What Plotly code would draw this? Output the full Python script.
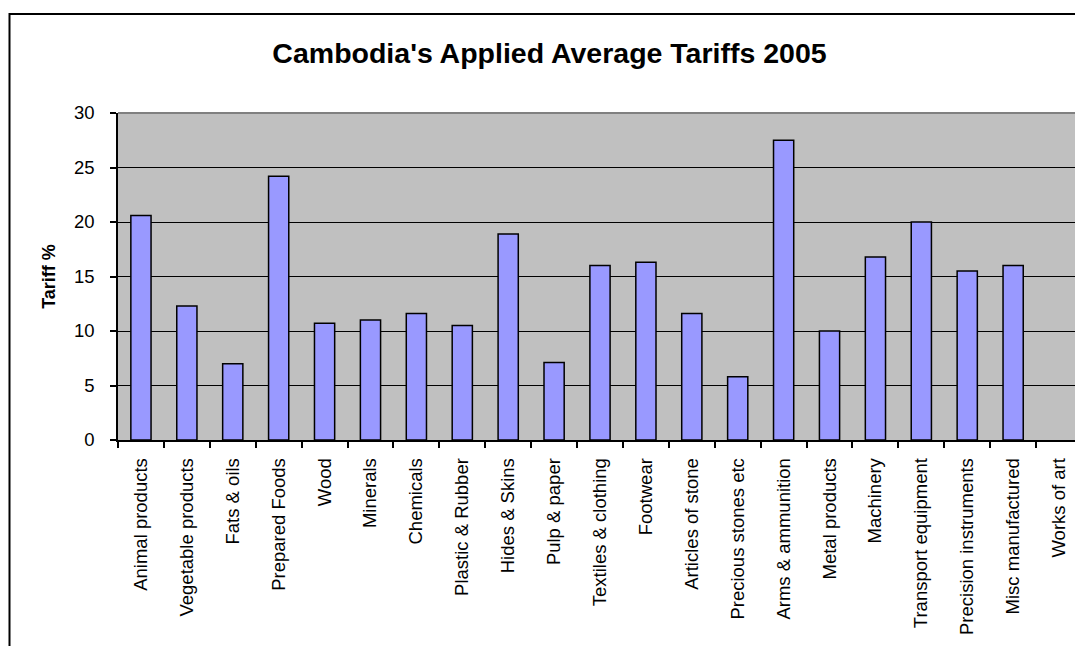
import plotly.graph_objects as go

categories = [
    "Animal products", "Vegetable products", "Fats & oils", "Prepared Foods",
    "Wood", "Minerals", "Chemicals", "Plastic & Rubber", "Hides & Skins",
    "Pulp & paper", "Textiles & clothing", "Footwear", "Articles of stone",
    "Precious stones etc", "Arms & ammunition", "Metal products", "Machinery",
    "Transport equipment", "Precision instruments", "Misc manufactured",
    "Works of art",
]
tariffs = [20.6, 12.3, 7.0, 24.2, 10.7, 11.0, 11.6, 10.5, 18.9, 7.1, 16.0,
           16.3, 11.6, 5.8, 27.5, 10.0, 16.8, 20.0, 15.5, 16.0, None]
y_ticks = [0, 5, 10, 15, 20, 25, 30]

FONT = "Liberation Sans, Arial, sans-serif"

# page has an 8px body margin, so the figure is a bit smaller than the window
W, H = 1075, 638
ML, MR, MT, MB = 110, 1, 105, 206
PW, PH = W - ML - MR, H - MT - MB

fig = go.Figure(go.Bar(
    x=categories, y=tariffs,
    marker=dict(color="#9999FF", line=dict(color="#000000", width=1.5)),
))

fig.update_layout(
    width=W, height=H,
    margin=dict(l=ML, r=MR, t=MT, b=MB, pad=0),
    paper_bgcolor="#FFFFFF", plot_bgcolor="#C0C0C0",
    bargap=0.56, showlegend=False,
    font=dict(family=FONT, color="#000000", size=18),
    title=dict(text="<b>Cambodia's Applied Average Tariffs 2005</b>",
               x=(549.5 - 8) / W, xref="container", xanchor="center",
               y=1 - 45 / H, yref="container", yanchor="middle",
               font=dict(family=FONT, size=28.5, color="#000000")),
    xaxis=dict(type="category", tickangle=-90, tickson="boundaries",
               ticks="outside", ticklen=6, tickcolor="#000000", tickwidth=1.5,
               showline=True, linecolor="#000000", linewidth=1.5,
               showgrid=False, ticklabelstandoff=9,
               tickfont=dict(family=FONT, size=18.5)),
    yaxis=dict(range=[0, 30], tickvals=y_ticks, ticks="outside", ticklen=6,
               tickcolor="#000000", tickwidth=1.5,
               showline=True, linecolor="#000000", linewidth=1.5,
               showgrid=True, gridcolor="#000000", gridwidth=1.2,
               zeroline=False, ticklabelstandoff=12,
               tickfont=dict(family=FONT, size=18.5),
               title=dict(text="<b>Tariff %</b>", standoff=14,
                          font=dict(family=FONT, size=18))),
    shapes=[
        # plot area top/right border (gray)
        dict(type="line", xref="paper", yref="paper", x0=0, x1=1, y0=1, y1=1,
             line=dict(color="#808080", width=2), layer="above"),
        dict(type="line", xref="paper", yref="paper", x0=1, x1=1, y0=0, y1=1,
             line=dict(color="#808080", width=2), layer="above"),
        # outer chart border
        dict(type="rect", xref="paper", yref="paper",
             x0=(1.5 - ML) / PW, x1=(W + 30 - ML) / PW,
             y0=-(MB + 30) / PH, y1=(H - 6 - MB) / PH,
             line=dict(color="#000000", width=2), fillcolor="rgba(0,0,0,0)",
             layer="above"),
    ],
)

fig.write_html("out.html")
